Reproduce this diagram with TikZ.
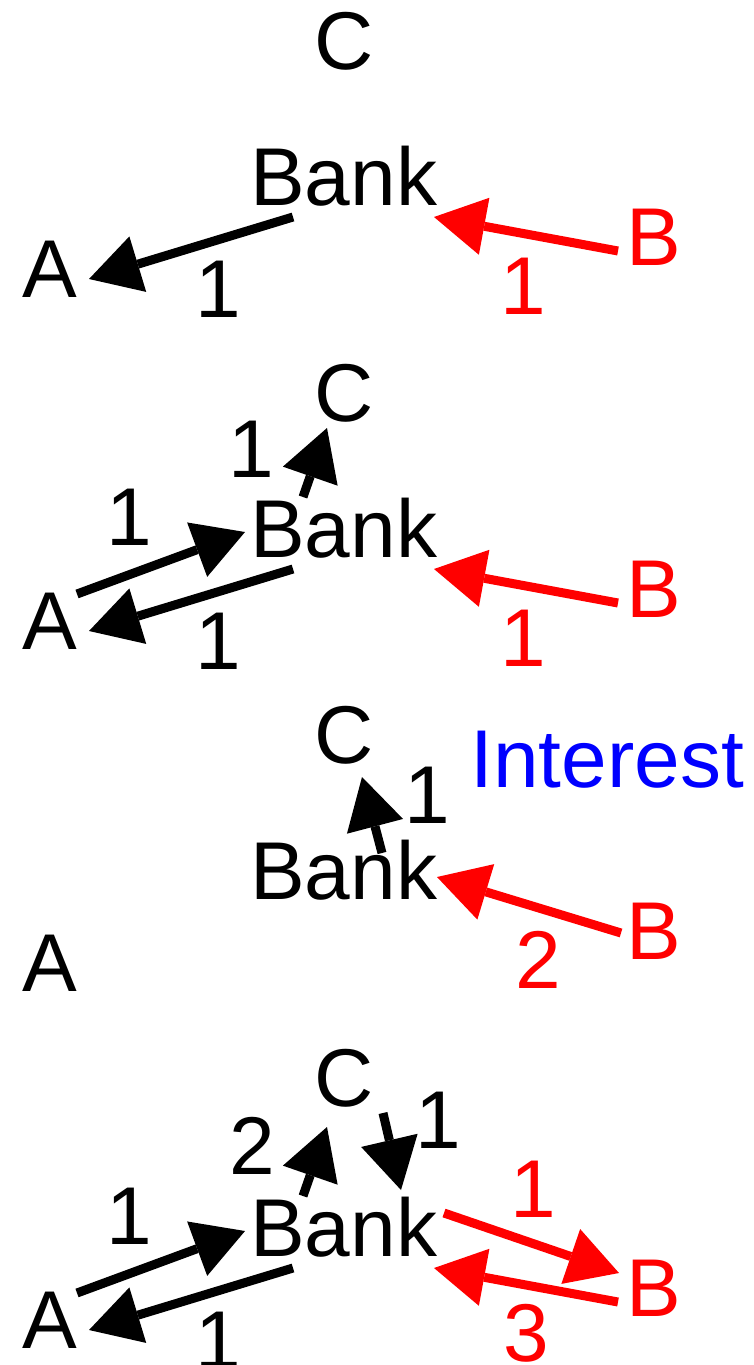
\documentclass[tikz,border=0pt]{standalone}
\usepackage{fontspec}
\setmainfont{Liberation Sans}
\usetikzlibrary{arrows.meta}
\definecolor{pred}{RGB}{255,0,0}
\definecolor{pblue}{RGB}{0,0,255}
\tikzset{
  lbl/.style={inner sep=0pt, anchor=base, font=\fontsize{82pt}{98pt}\selectfont},
  lblw/.style={lbl, anchor=base west},
  flow/.style={line width=9pt, -{Triangle[length=51pt,width=58pt,line width=0pt]}},
  redflow/.style={flow, draw=pred, fill=pred},
  blackflow/.style={flow, draw=black, fill=black}
}
\begin{document}
\begin{tikzpicture}[x=1pt,y=-1pt]
\useasboundingbox (0,0) rectangle (754,1365);
% ---------- Panel 1 ----------
\node[lbl] (C1) at (344.5,69) {C};
\node[lblw] (Bank1) at (250,205) {Bank};
\node[lbl] (A1) at (49.5,297) {A};
\node[lblw, text=pred] (B1) at (626,265) {B};
\node[lbl] (l1a) at (218,317) {1};
\node[lbl, text=pred] (l1b) at (523,314) {1};
\coordinate (p1s1) at (293,217); \coordinate (p1e1) at (89,279);
\coordinate (p1s2) at (618,251); \coordinate (p1e2) at (434,217);
\draw[blackflow] (p1s1) -- (p1e1);
\draw[redflow] (p1s2) -- (p1e2);
% ---------- Panel 2 ----------
\node[lbl] (C2) at (344.5,421) {C};
\node[lblw] (Bank2) at (250,557) {Bank};
\node[lbl] (A2) at (49.5,649) {A};
\node[lblw, text=pred] (B2) at (626,617) {B};
\node[lbl] (l2a) at (218,669) {1};
\node[lbl, text=pred] (l2b) at (523,666) {1};
\node[lbl] (l2c) at (251,477) {1};
\node[lbl] (l2d) at (129.5,545) {1};
\coordinate (p2s1) at (293,569); \coordinate (p2e1) at (89,631);
\coordinate (p2s2) at (618,603); \coordinate (p2e2) at (434,569);
\coordinate (p2s3) at (77,594);  \coordinate (p2e3) at (245,532);
\coordinate (p2s4) at (303,497); \coordinate (p2e4) at (327,428);
\draw[blackflow] (p2s1) -- (p2e1);
\draw[redflow] (p2s2) -- (p2e2);
\draw[blackflow] (p2s3) -- (p2e3);
\draw[blackflow] (p2s4) -- (p2e4);
% ---------- Panel 3 ----------
\node[lbl] (C3) at (344.5,763) {C};
\node[lblw] (Bank3) at (250,899) {Bank};
\node[lbl] (A3) at (49.5,991) {A};
\node[lblw, text=pred] (B3) at (626,959) {B};
\node[lblw, text=pblue] (Int3) at (470.4,787) {Interest};
\node[lbl] (l3a) at (427,823) {1};
\node[lbl, text=pred] (l3b) at (538,988) {2};
\coordinate (p3s1) at (382,853); \coordinate (p3e1) at (362,777);
\coordinate (p3s2) at (621,933); \coordinate (p3e2) at (437,877);
\draw[blackflow] (p3s1) -- (p3e1);
\draw[redflow] (p3s2) -- (p3e2);
% ---------- Panel 4 ----------
\node[lbl] (C4) at (344.5,1106) {C};
\node[lblw] (Bank4) at (250,1256) {Bank};
\node[lbl] (A4) at (49.5,1348) {A};
\node[lblw, text=pred] (B4) at (626,1316) {B};
\node[lbl] (l4a) at (218,1368) {1};
\node[lbl] (l4b) at (129.5,1244) {1};
\node[lbl] (l4c) at (252.5,1174) {2};
\node[lbl] (l4d) at (438.5,1148) {1};
\node[lbl, text=pred] (l4e) at (533,1217) {1};
\node[lbl, text=pred] (l4f) at (526,1361) {3};
\coordinate (p4s1) at (293,1268); \coordinate (p4e1) at (89,1330);
\coordinate (p4s2) at (77,1293);  \coordinate (p4e2) at (245,1231);
\coordinate (p4s3) at (303,1196); \coordinate (p4e3) at (327,1127);
\coordinate (p4s4) at (383,1113); \coordinate (p4e4) at (401,1190);
\coordinate (p4s5) at (444,1213); \coordinate (p4e5) at (619,1273);
\coordinate (p4s6) at (618,1302); \coordinate (p4e6) at (434,1268);
\draw[blackflow] (p4s1) -- (p4e1);
\draw[blackflow] (p4s2) -- (p4e2);
\draw[blackflow] (p4s3) -- (p4e3);
\draw[blackflow] (p4s4) -- (p4e4);
\draw[redflow] (p4s5) -- (p4e5);
\draw[redflow] (p4s6) -- (p4e6);
\end{tikzpicture}
\end{document}
